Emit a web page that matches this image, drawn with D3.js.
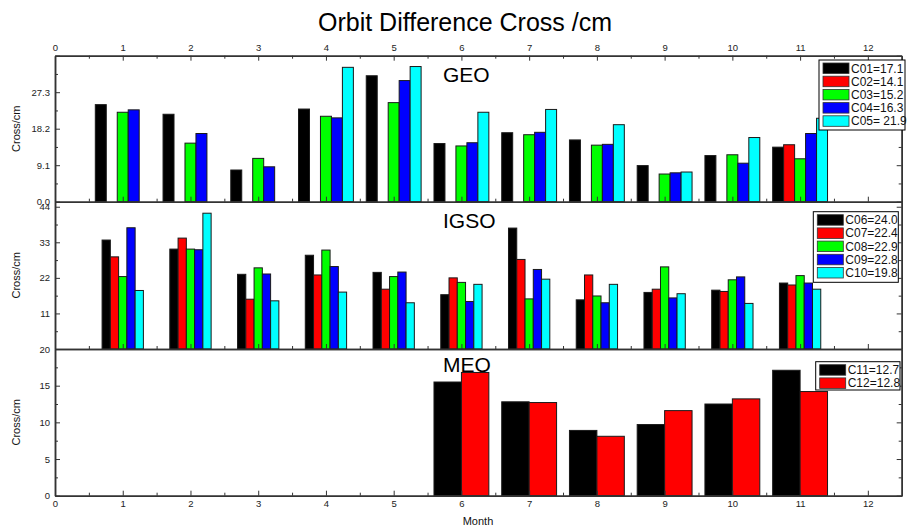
<!DOCTYPE html>
<html lang="en">
  <head>
    <meta charset="UTF-8" />
    <title>Orbit Difference Cross /cm</title>
    <style>
      body {
        margin: 0;
        background: #fff;
        font-family: "Liberation Sans", Arial, sans-serif;
      }
      svg text {
        font-family: "Liberation Sans", Arial, sans-serif;
      }
      .axis path,
      .axis line {
        stroke: #333;
      }
      .axis path {
        stroke-width: 1.5;
      }
      .axis text {
        fill: #222;
        font-size: 9.5px;
      }
    </style>
  </head>
  <body>
    <script src="https://cdn.jsdelivr.net/npm/d3@7"></script>
    <script>
      // data (months 1..11, null = no bar)
      var months = [1, 2, 3, 4, 5, 6, 7, 8, 9, 10, 11];
      var monthTicks = [0, 1, 2, 3, 4, 5, 6, 7, 8, 9, 10, 11, 12];
      var colors = ["#000000", "#ff0000", "#00ff00", "#0000ff", "#00ffff"];

      var geoNames = ["C01", "C02", "C03", "C04", "C05"];
      var geoLegend = ["C01=17.1", "C02=14.1", "C03=15.2", "C04=16.3", "C05= 21.9"];
      var geoC01 = [24.2, 21.8, 7.9, 23.1, 31.4, 14.5, 17.2, 15.4, 9.0, 11.5, 13.6];
      var geoC02 = [null, null, null, null, null, null, null, null, null, null, 14.2];
      var geoC03 = [22.3, 14.6, 10.8, 21.3, 24.7, 13.9, 16.7, 14.1, 6.9, 11.7, 10.7];
      var geoC04 = [22.9, 17.0, 8.7, 20.9, 30.2, 14.7, 17.3, 14.3, 7.2, 9.6, 17.0];
      var geoC05 = [null, null, null, 33.5, 33.7, 22.3, 23.0, 19.2, 7.4, 16.0, 20.8];
      var geoTicks = [0, 9.1, 18.2, 27.3, 36.4];
      var geoTickLabels = ["0.0", "9.1", "18.2", "27.3", ""];

      var igsoNames = ["C06", "C07", "C08", "C09", "C10"];
      var igsoLegend = ["C06=24.0", "C07=22.4", "C08=22.9", "C09=22.8", "C10=19.8"];
      var igsoC06 = [33.7, 30.9, 23.1, 29.0, 23.7, 16.8, 37.4, 15.2, 17.5, 18.2, 20.4];
      var igsoC07 = [28.5, 34.3, 15.4, 22.9, 18.5, 22.0, 27.7, 22.9, 18.5, 17.8, 19.8];
      var igsoC08 = [22.4, 30.9, 25.1, 30.6, 22.4, 20.6, 15.5, 16.4, 25.4, 21.4, 22.7];
      var igsoC09 = [37.5, 30.7, 23.2, 25.5, 23.8, 14.7, 24.6, 14.3, 15.8, 22.3, 20.4];
      var igsoC10 = [18.1, 42.0, 14.9, 17.6, 14.3, 20.0, 21.6, 20.0, 17.1, 14.1, 18.5];
      var igsoTicks = [0, 11, 22, 33, 44];
      // the "0" sits under the MEO panel's "20" in the picture
      var igsoTickLabels = ["", "11", "22", "33", "44"];

      var meoNames = ["C11", "C12"];
      var meoLegend = ["C11=12.7", "C12=12.8"];
      var meoC11 = [null, null, null, null, null, 15.5, 12.8, 8.9, 9.7, 12.5, 17.1];
      var meoC12 = [null, null, null, null, null, 16.8, 12.7, 8.1, 11.6, 13.2, 14.2];
      var meoTicks = [0, 5, 10, 15, 20];
      var meoTickLabels = ["0", "5", "10", "15", "20"];

      var W = 907, H = 529;
      var left = 55, right = 901.7;

      var svg = d3.select("body").append("svg").attr("width", W).attr("height", H);

      var x = d3.scaleLinear().domain([0, 12.5]).range([left, right]);

      var panels = [
        { label: "GEO", names: geoNames, legend: geoLegend,
          series: [geoC01, geoC02, geoC03, geoC04, geoC05],
          ticks: geoTicks, tickLabels: geoTickLabels, max: 36.4,
          top: 55.7, bottom: 201.7, group: 0.81,
          labelY: 82, legendBox: [819, 60, 86, 70] },
        { label: "IGSO", names: igsoNames, legend: igsoLegend,
          series: [igsoC06, igsoC07, igsoC08, igsoC09, igsoC10],
          ticks: igsoTicks, tickLabels: igsoTickLabels, max: 45.56,
          top: 201.7, bottom: 349, group: 0.61,
          labelY: 228, legendBox: [813.3, 211.7, 85, 70.6] },
        { label: "MEO", names: meoNames, legend: meoLegend,
          series: [meoC11, meoC12],
          ticks: meoTicks, tickLabels: meoTickLabels, max: 20,
          top: 349, bottom: 495.7, group: 0.81,
          labelY: 372, legendBox: [815.7, 361.7, 84.3, 28.3] }
      ];

      function minorTicks(t) {
        var out = [];
        for (var i = 0; i < t.length - 1; i++) out.push((t[i] + t[i + 1]) / 2);
        return out;
      }
      var halfMonths = d3.range(0.5, 12.5, 1);

      panels.forEach(function(p, pi) {
        var y = d3.scaleLinear().domain([0, p.max]).range([p.bottom, p.top]);
        var inner = d3.scaleBand().domain(p.names).range([-p.group / 2, p.group / 2]);
        var g = svg.append("g");

        p.series.forEach(function(vals, si) {
          var rows = months
            .map(function(m, i) { return { m: m, v: vals[i] }; })
            .filter(function(d) { return d.v != null; });
          g.selectAll(null)
            .data(rows)
            .enter()
            .append("rect")
            .attr("x", function(d) { return x(d.m + inner(p.names[si])); })
            .attr("width", function(d) { return x(d.m + inner(p.names[si]) + inner.bandwidth()) - x(d.m + inner(p.names[si])); })
            .attr("y", function(d) { return y(d.v); })
            .attr("height", function(d) { return p.bottom - y(d.v); })
            .style("fill", colors[si])
            .style("stroke", "#1a1a1a")
            .style("stroke-width", 1);
        });

        // left axis
        g.append("g").attr("class", "axis").attr("transform", "translate(" + left + ",0)")
          .call(d3.axisLeft(y).tickValues(p.ticks)
            .tickFormat(function(d, i) { return p.tickLabels[i]; })
            .tickSizeInner(-5).tickSizeOuter(0).tickPadding(5));
        g.append("g").attr("class", "axis").attr("transform", "translate(" + left + ",0)")
          .call(d3.axisLeft(y).tickValues(minorTicks(p.ticks)).tickFormat("").tickSizeInner(-3).tickSizeOuter(0));

        // right axis
        g.append("g").attr("class", "axis").attr("transform", "translate(" + right + ",0)")
          .call(d3.axisRight(y).tickValues(p.ticks).tickFormat("").tickSizeInner(-5).tickSizeOuter(0));
        g.append("g").attr("class", "axis").attr("transform", "translate(" + right + ",0)")
          .call(d3.axisRight(y).tickValues(minorTicks(p.ticks)).tickFormat("").tickSizeInner(-3).tickSizeOuter(0));

        // bottom axis
        g.append("g").attr("class", "axis").attr("transform", "translate(0," + p.bottom + ")")
          .call(d3.axisBottom(x).tickValues(monthTicks)
            .tickFormat(pi === 2 ? d3.format("d") : "")
            .tickSizeInner(-5).tickSizeOuter(0).tickPadding(5));
        g.append("g").attr("class", "axis").attr("transform", "translate(0," + p.bottom + ")")
          .call(d3.axisBottom(x).tickValues(halfMonths).tickFormat("").tickSizeInner(-3).tickSizeOuter(0));

        if (pi === 0) {
          g.append("g").attr("class", "axis").attr("transform", "translate(0," + p.top + ")")
            .call(d3.axisTop(x).tickValues(monthTicks).tickFormat(d3.format("d"))
              .tickSizeInner(-5).tickSizeOuter(0).tickPadding(5));
          g.append("g").attr("class", "axis").attr("transform", "translate(0," + p.top + ")")
            .call(d3.axisTop(x).tickValues(halfMonths).tickFormat("").tickSizeInner(-3).tickSizeOuter(0));
        }

        // y label
        g.append("text")
          .attr("transform", "translate(20," + (p.top + p.bottom) / 2 + ") rotate(-90)")
          .attr("text-anchor", "middle")
          .style("font-size", "11px")
          .style("fill", "#111")
          .text("Cross/cm");

        // panel label
        g.append("text")
          .attr("x", 443)
          .attr("y", p.labelY)
          .style("font-size", "21px")
          .style("fill", "#000")
          .text(p.label);

        // legend
        var lb = p.legendBox;
        var lg = g.append("g");
        lg.append("rect")
          .attr("x", lb[0]).attr("y", lb[1]).attr("width", lb[2]).attr("height", lb[3])
          .style("fill", "#fff").style("stroke", "#000").style("stroke-width", 1);
        p.legend.forEach(function(t, i) {
          lg.append("rect")
            .attr("x", lb[0] + 4).attr("y", lb[1] + 3 + i * 13.2)
            .attr("width", 26).attr("height", 10.5)
            .style("fill", colors[i]).style("stroke", "#333").style("stroke-width", 0.8);
          lg.append("text")
            .attr("x", lb[0] + 32).attr("y", lb[1] + 12.5 + i * 13.2)
            .style("font-size", "12px")
            .style("fill", "#111")
            .text(t);
        });
      });

      // title
      svg.append("text")
        .attr("x", 465)
        .attr("y", 31)
        .attr("text-anchor", "middle")
        .style("font-size", "25px")
        .style("fill", "#000")
        .text("Orbit Difference Cross /cm");

      // x label
      svg.append("text")
        .attr("x", 478)
        .attr("y", 525)
        .attr("text-anchor", "middle")
        .style("font-size", "11px")
        .style("fill", "#111")
        .text("Month");
    </script>
  </body>
</html>
